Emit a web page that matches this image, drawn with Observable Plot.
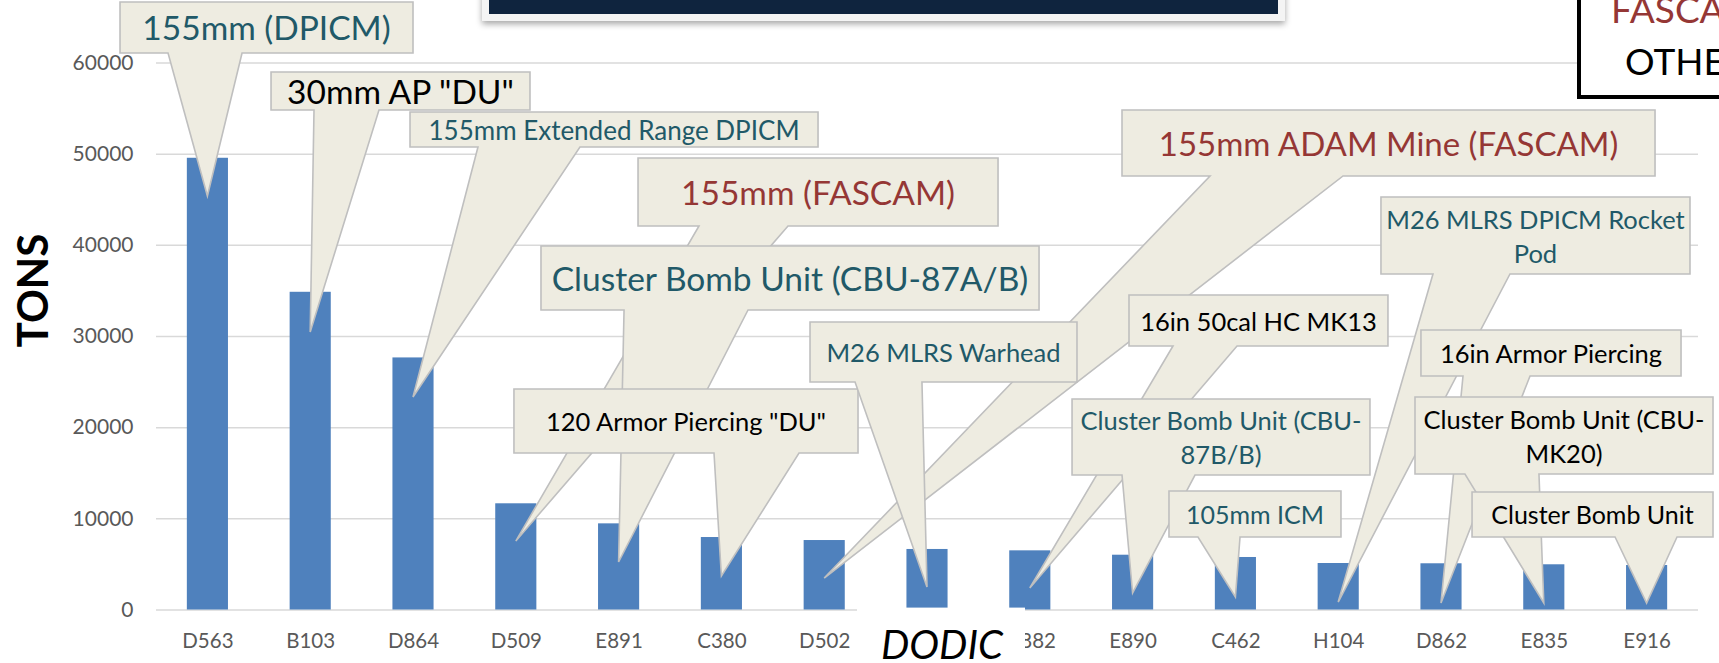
<!DOCTYPE html>
<html>
<head>
<meta charset="utf-8">
<script src="https://cdn.jsdelivr.net/npm/d3@7"></script>
<script src="https://cdn.jsdelivr.net/npm/@observablehq/plot@0.6"></script>
<style>
  html, body { margin: 0; padding: 0; background: #ffffff; overflow: hidden; }
  #chart { width: 1719px; height: 663px; overflow: hidden; }
</style>
</head>
<body>
<div id="chart"></div>
<script>
// ---------- data ----------
const dodics = ["D563", "B103", "D864", "D509", "E891", "C380", "D502", "", "D882", "E890", "C462", "H104", "D862", "E835", "E916"];
const tons   = [49550, 34850, 27650, 11650, 9450, 7950, 7620, 6640, 6490, 6010, 5760, 5100, 5070, 4960, 4880];
const yTicks = [0, 10000, 20000, 30000, 40000, 50000, 60000];

// callout texts (lines), the DODIC each one points to, and the tip depth (tons)
const calloutLines = [
  ["155mm (DPICM)"],
  ['30mm AP "DU"'],
  ["155mm Extended Range DPICM"],
  ["155mm (FASCAM)"],
  ["Cluster Bomb Unit (CBU-87A/B)"],
  ['120 Armor Piercing "DU"'],
  ["155mm ADAM Mine (FASCAM)"],
  ["M26 MLRS Warhead"],
  ["16in 50cal HC MK13"],
  ["Cluster Bomb Unit (CBU-", "87B/B)"],
  ["105mm ICM"],
  ["M26 MLRS DPICM Rocket", "Pod"],
  ["16in Armor Piercing"],
  ["Cluster Bomb Unit (CBU-", "MK20)"],
  ["Cluster Bomb Unit"]
];
const calloutTarget = ["D563", "B103", "D864", "D509", "E891", "C380", "D502", "", "D882", "E890", "C462", "H104", "D862", "E835", "E916"];
const calloutTip    = [45360, 30440, 23310, 7510, 5210, 3670, 3450, 2470, 2360, 1810, 1370, 820, 710, 710, 710];
const legendLabels  = ["FASCAM", "OTHER"];

// ---------- layout / style ----------
const TEAL = "#215968", RED = "#953735", INK = "#000000";
// box: [band-unit left, band-unit right, tons top, tons bottom]; base: wedge base on box bottom (band units)
const calloutLayout = [
  {box: [-0.850, 2.000, 66637, 61043], base: [-0.383, 0.337], size: 33.5, color: TEAL},
  {box: [0.619, 3.138, 58958, 54790],  base: [1.037, 1.669],  size: 33.5, color: INK},
  {box: [1.971, 5.940, 54571, 50732],  base: [2.632, 3.624],  size: 26,   color: TEAL},
  {box: [4.189, 7.691, 49526, 42067],  base: [4.782, 5.648],  size: 33.5, color: RED},
  {box: [3.245, 8.090, 39873, 32853],  base: [4.053, 5.259],  size: 33.5, color: TEAL},
  {box: [2.982, 6.329, 24187, 17167],  base: [4.928, 5.755],  size: 25.5, color: INK},
  {box: [8.897, 14.082, 54790, 47552], base: [9.753, 11.047], size: 33,   color: RED},
  {box: [5.862, 8.459, 31536, 24955],  base: [6.300, 6.951],  size: 25.5, color: TEAL},
  {box: [8.965, 11.484, 34498, 28904], base: [9.393, 10.016], size: 25.5, color: INK},
  {box: [8.411, 11.309, 23090, 14753], base: [8.897, 9.607],  size: 25.5, color: TEAL},
  {box: [9.354, 11.027, 12998, 7953],  base: [9.636, 10.045], size: 25,   color: TEAL},
  {box: [11.416, 14.422, 45249, 36802],base: [11.922, 12.671],size: 25.5, color: TEAL},
  {box: [11.805, 14.335, 30659, 25613],base: [12.214, 12.866],size: 25.5, color: INK},
  {box: [11.747, 14.646, 23310, 14863],base: [12.233, 12.953],size: 25.5, color: INK},
  {box: [12.302, 14.646, 12889, 7953], base: [13.693, 14.296],size: 25,   color: INK}
];

const table = dodics.map((d, i) => ({dodic: d, tons: tons[i]}));
const FONT = "Lato, 'Open Sans', sans-serif";

function bandHelpers(scales) {
  const X = scales.x;
  const step = X(dodics[1]) - X(dodics[0]);
  const bw = typeof X.bandwidth === "function" ? X.bandwidth() : step * 0.4;
  const c0 = X(dodics[0]) + bw / 2;
  return {ux: u => c0 + u * step, step, bw};
}

function drawCallouts(index, scales) {
  const {ux} = bandHelpers(scales);
  const Y = scales.y;
  const g = d3.create("svg:g").attr("font-family", FONT);
  calloutLines.forEach((lines, k) => {
    const L = calloutLayout[k];
    const ti = dodics.indexOf(calloutTarget[k]);
    const tx = ux(ti), ty = Y(calloutTip[k]);
    const x0 = ux(L.box[0]), x1 = ux(L.box[1]);
    const y0 = Y(L.box[2]), y1 = Y(L.box[3]);
    const b0 = ux(L.base[0]), b1 = ux(L.base[1]);
    g.append("path")
      .attr("d", `M${x0},${y0}H${x1}V${y1}H${b1}L${tx},${ty}L${b0},${y1}H${x0}Z`)
      .attr("fill", "#eeece1")
      .attr("stroke", "#bfbfbf")
      .attr("stroke-width", 1.6);
    const cx = (x0 + x1) / 2, cy = (y0 + y1) / 2;
    const n = lines.length, lh = L.size * 1.33, cap = 0.716 * L.size;
    lines.forEach((s, j) => {
      g.append("text")
        .attr("x", cx)
        .attr("y", cy + 1 + cap / 2 + (j - (n - 1) / 2) * lh)
        .attr("text-anchor", "middle")
        .attr("font-size", L.size)
        .attr("fill", L.color)
        .text(s);
    });
  });
  return g.node();
}

function drawDecor(index, scales, values, dims) {
  const g = d3.create("svg:g").attr("font-family", FONT);
  const defs = g.append("defs");
  const f = defs.append("filter").attr("id", "shadow").attr("x", "-5%").attr("y", "-50%").attr("width", "110%").attr("height", "200%");
  f.append("feDropShadow").attr("dx", 0).attr("dy", 3).attr("stdDeviation", 3).attr("flood-color", "#000").attr("flood-opacity", 0.35);

  // title panel (top, mostly outside the picture)
  g.append("rect").attr("x", 482).attr("y", -20).attr("width", 803).attr("height", 41)
    .attr("fill", "#f4f4f4").attr("filter", "url(#shadow)");
  g.append("rect").attr("x", 489).attr("y", -20).attr("width", 789).attr("height", 34)
    .attr("fill", "#0f243e");

  // legend box (top right, partly outside)
  g.append("rect").attr("x", 1579).attr("y", -20).attr("width", 220).attr("height", 117)
    .attr("fill", "#ffffff").attr("stroke", "#000").attr("stroke-width", 4);
  g.append("text").attr("x", 1611).attr("y", 23).attr("text-anchor", "start")
    .attr("font-size", 37).attr("fill", RED).text(legendLabels[0]);
  g.append("text").attr("x", 1625).attr("y", 75).attr("text-anchor", "start")
    .attr("font-size", 37).attr("fill", INK).text(legendLabels[1]);

  // y axis title
  g.append("text").attr("transform", "translate(47.5,290.5) rotate(-90)")
    .attr("text-anchor", "middle").attr("font-size", 42).attr("font-weight", "bold").attr("fill", "#000").text("TONS");

  // x axis title on its white text box
  g.append("rect").attr("x", 857).attr("y", 607.6).attr("width", 168).attr("height", 60).attr("fill", "#ffffff");
  g.append("text").attr("x", 942).attr("y", 659).attr("text-anchor", "middle")
    .attr("font-size", 40).attr("font-style", "italic").attr("fill", "#000").text("DODIC");
  return g.node();
}

const chart = Plot.plot({
  width: 1719,
  height: 663,
  marginLeft: 156,
  marginRight: 21,
  marginTop: 62.5,
  marginBottom: 53.5,
  style: {fontFamily: FONT, background: "#ffffff", color: "#595959"},
  x: {domain: dodics, paddingInner: 0.6, paddingOuter: 0.3, round: false, label: null},
  y: {domain: [0, 60000], label: null},
  marks: [
    Plot.ruleY(yTicks, {stroke: "#d9d9d9", strokeWidth: 1.5}),
    Plot.axisY({ticks: yTicks, tickSize: 0, tickPadding: 23, tickFormat: d => String(d), fontSize: 21, color: "#595959", fill: "#595959", label: null}),
    Plot.axisX({tickSize: 0, tickPadding: 23, fontSize: 20.5, color: "#595959", fill: "#595959", label: null}),
    Plot.barY(table, {x: "dodic", y: "tons", fill: "#4f81bd"}),
    drawCallouts,
    drawDecor
  ]
});
document.getElementById("chart").appendChild(chart);
</script>
</body>
</html>
